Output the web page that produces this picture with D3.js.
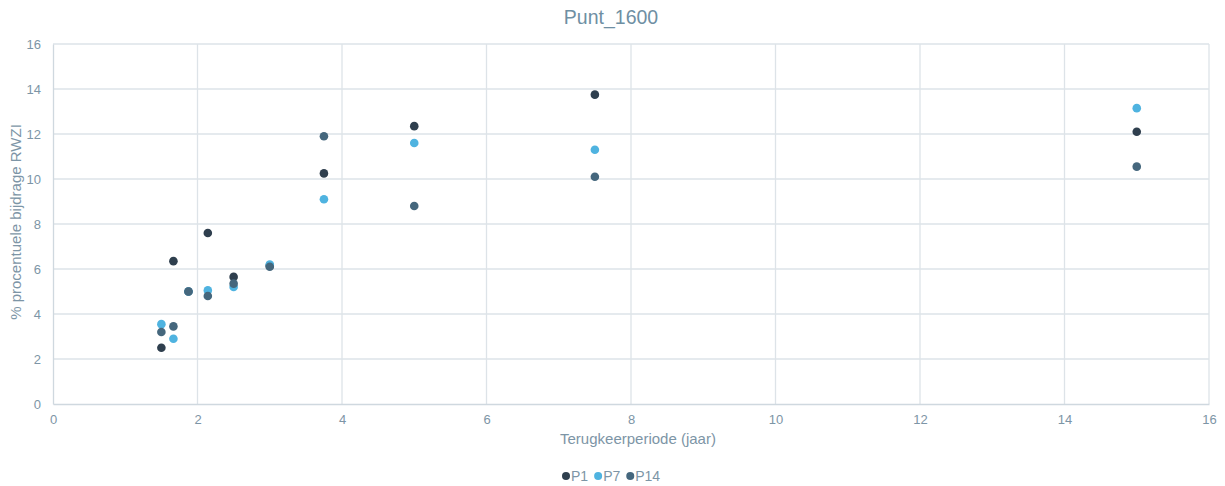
<!DOCTYPE html>
<html>
<head>
<meta charset="utf-8">
<script src="https://cdn.jsdelivr.net/npm/d3@7"></script>
<style>
  html, body { margin: 0; padding: 0; background: #fff; }
  svg { display: block; font-family: "Liberation Sans", Arial, sans-serif; }
</style>
</head>
<body>
<svg id="chart" width="1225" height="486"></svg>
<script>
// Return periods (years) shared by all series
const periods = [15/10, 15/9, 15/8, 15/7, 15/6, 15/5, 15/4, 15/3, 15/2, 15/1];

// Percentage contribution of the treatment plant per location
const p1  = [2.5, 6.35, 5.0, 7.6, 5.65, 6.15, 10.25, 12.35, 13.75, 12.1];
const p7  = [3.55, 2.9, 5.0, 5.05, 5.2, 6.2, 9.1, 11.6, 11.3, 13.15];
const p14 = [3.2, 3.45, 5.0, 4.8, 5.35, 6.1, 11.9, 8.8, 10.1, 10.55];

const seriesNames = ["P1", "P7", "P14"];
const seriesColors = ["#2f3f4e", "#4fb3e0", "#45677d"];
const xTicks = [0, 2, 4, 6, 8, 10, 12, 14, 16];
const yTicks = [0, 2, 4, 6, 8, 10, 12, 14, 16];

const svg = d3.select("#chart");
const margin = { left: 53, right: 16, top: 44, bottom: 82 };
const W = 1225, H = 486;

const x = d3.scaleLinear().domain([0, 16]).range([margin.left, W - margin.right]);
const y = d3.scaleLinear().domain([0, 16]).range([H - margin.bottom, margin.top]);

const textColor = "#7d95a6";
const gridColor = "#dde3e8";

// Gridlines
svg.append("g").selectAll("line.v").data(xTicks.slice(1)).join("line")
  .attr("x1", d => x(d)).attr("x2", d => x(d))
  .attr("y1", y(16)).attr("y2", y(0))
  .attr("stroke", gridColor).attr("stroke-width", 1.3);
svg.append("g").selectAll("line.h").data(yTicks.slice(1)).join("line")
  .attr("x1", x(0)).attr("x2", x(16))
  .attr("y1", d => y(d)).attr("y2", d => y(d))
  .attr("stroke", gridColor).attr("stroke-width", 1.3);

// Axes
const xAxis = svg.append("g")
  .attr("transform", `translate(0,${y(0)})`)
  .call(d3.axisBottom(x).tickValues(xTicks).tickSize(0).tickPadding(11));
const yAxis = svg.append("g")
  .attr("transform", `translate(${x(0)},0)`)
  .call(d3.axisLeft(y).tickValues(yTicks).tickSize(0).tickPadding(12));
[xAxis, yAxis].forEach(g => {
  g.select(".domain").attr("stroke", "#cfd8df").attr("stroke-width", 1.3);
  g.selectAll("text").attr("fill", textColor).attr("font-size", 13)
    .attr("font-family", "Liberation Sans, Arial, sans-serif");
});

// Title
svg.append("text").attr("x", 611).attr("y", 24)
  .attr("text-anchor", "middle").attr("fill", "#6f8fa3").attr("font-size", 19.5)
  .text("Punt_1600");

// Axis titles
svg.append("text").attr("x", 638).attr("y", 444)
  .attr("text-anchor", "middle").attr("fill", textColor).attr("font-size", 15)
  .text("Terugkeerperiode (jaar)");
svg.append("text")
  .attr("transform", `translate(21,${y(8) - 2}) rotate(-90)`)
  .attr("text-anchor", "middle").attr("fill", textColor).attr("font-size", 15)
  .text("% procentuele bijdrage RWZI");

// Points
const series = [p1, p7, p14];
series.forEach((vals, i) => {
  svg.append("g").selectAll("circle").data(vals).join("circle")
    .attr("cx", (d, j) => x(periods[j]))
    .attr("cy", d => y(d))
    .attr("r", 4.3)
    .attr("fill", seriesColors[i]);
});

// Legend
const legend = svg.append("g").attr("transform", "translate(0,476)");
const items = legend.selectAll("g").data(seriesNames).join("g");
let cursor = 562;
items.each(function(name, i) {
  const g = d3.select(this);
  g.append("circle").attr("cx", cursor + 4).attr("cy", 0).attr("r", 4).attr("fill", seriesColors[i]);
  const t = g.append("text").attr("x", cursor + 9).attr("y", 5)
    .attr("fill", textColor).attr("font-size", 14).text(name);
  cursor += 9 + t.node().getComputedTextLength() + 6;
});
</script>
</body>
</html>
